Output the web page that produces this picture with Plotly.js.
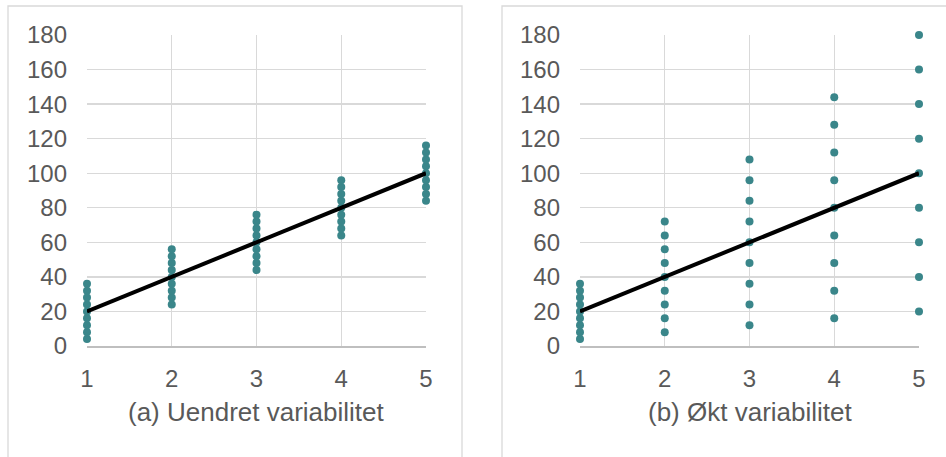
<!DOCTYPE html>
<html>
<head>
<meta charset="utf-8">
<script src="https://cdn.plot.ly/plotly-3.0.1.min.js"></script>
<style>html,body{margin:0;padding:0;background:#fff;}#chart{width:946px;height:457px;}</style>
</head>
<body>
<div id="chart"></div>
<script>
// Panel (a): unchanged variability
const xA = [1,1,1,1,1,1,1,1,1, 2,2,2,2,2,2,2,2,2, 3,3,3,3,3,3,3,3,3, 4,4,4,4,4,4,4,4,4, 5,5,5,5,5,5,5,5,5];
const yA = [4,8,12,16,20,24,28,32,36,
            24,28,32,36,40,44,48,52,56,
            44,48,52,56,60,64,68,72,76,
            64,68,72,76,80,84,88,92,96,
            84,88,92,96,100,104,108,112,116];
// Panel (b): increased variability
const xB = xA.slice();
const yB = [4,8,12,16,20,24,28,32,36,
            8,16,24,32,40,48,56,64,72,
            12,24,36,48,60,72,84,96,108,
            16,32,48,64,80,96,112,128,144,
            20,40,60,80,100,120,140,160,180];
// Trend line
const lineX = [1,5];
const lineY = [20,100];
const xTicks = [1,2,3,4,5];
const yTicks = [0,20,40,60,80,100,120,140,160,180];
const titleA = "(a) Uendret variabilitet";
const titleB = "(b) Økt variabilitet";

const W = 946, H = 457;
const teal = "#3a868a";
const textCol = "#595959";
const fontFam = "Liberation Sans, Arial, sans-serif";

function mk(x, y, xa, ya) {
  return [
    {x: x, y: y, xaxis: xa, yaxis: ya, type: "scatter", mode: "markers",
     marker: {color: teal, size: 8}, cliponaxis: false, hoverinfo: "skip"},
    {x: lineX, y: lineY, xaxis: xa, yaxis: ya, type: "scatter", mode: "lines",
     line: {color: "#000000", width: 4}, cliponaxis: false, hoverinfo: "skip"}
  ];
}
const data = [].concat(mk(xA, yA, "x", "y"), mk(xB, yB, "x2", "y2"));

const yDom = [1 - 346/H, 1 - 35/H];
function xax(dom, anchor) {
  return {domain: dom, anchor: anchor, range: [1,5], tickvals: xTicks, ticktext: xTicks.map(String),
    showgrid: true, gridcolor: "#d9d9d9", gridwidth: 1.3, zeroline: false,
    showline: true, linecolor: "#bfbfbf", linewidth: 1.5, ticks: "", ticklabelstandoff: 11,
    tickfont: {family: fontFam, size: 24, color: textCol}, fixedrange: true};
}
function yax(anchor) {
  return {domain: yDom, anchor: anchor, range: [0,180], tickvals: yTicks, ticktext: yTicks.map(String),
    showgrid: true, gridcolor: "#d9d9d9", gridwidth: 1.3, zeroline: false,
    showline: false, ticks: "", ticklabelstandoff: 19,
    tickfont: {family: fontFam, size: 24, color: textCol}, fixedrange: true};
}

const layout = {
  width: W, height: H, margin: {l:0, r:0, t:0, b:0},
  paper_bgcolor: "#ffffff", plot_bgcolor: "rgba(0,0,0,0)",
  showlegend: false,
  xaxis: xax([87/W, 426/W], "y"),
  yaxis: yax("x"),
  xaxis2: xax([580/W, 919/W], "y2"),
  yaxis2: yax("x2"),
  shapes: [
    {type: "rect", xref: "paper", yref: "paper", x0: 8/W, x1: 462/W, y0: -0.05, y1: 1 - 6/H,
     line: {color: "#d9d9d9", width: 1.3}, layer: "below"},
    {type: "rect", xref: "paper", yref: "paper", x0: 502/W, x1: 1.05, y0: -0.05, y1: 1 - 6/H,
     line: {color: "#d9d9d9", width: 1.3}, layer: "below"}
  ],
  annotations: [
    {text: titleA, xref: "paper", yref: "paper", x: (87+426)/2/W, y: 1 - 412/H,
     xanchor: "center", yanchor: "middle", showarrow: false,
     font: {family: fontFam, size: 26, color: textCol}},
    {text: titleB, xref: "paper", yref: "paper", x: (580+919)/2/W, y: 1 - 412/H,
     xanchor: "center", yanchor: "middle", showarrow: false,
     font: {family: fontFam, size: 26, color: textCol}}
  ]
};
Plotly.newPlot("chart", data, layout, {staticPlot: true, displayModeBar: false});
</script>
</body>
</html>
